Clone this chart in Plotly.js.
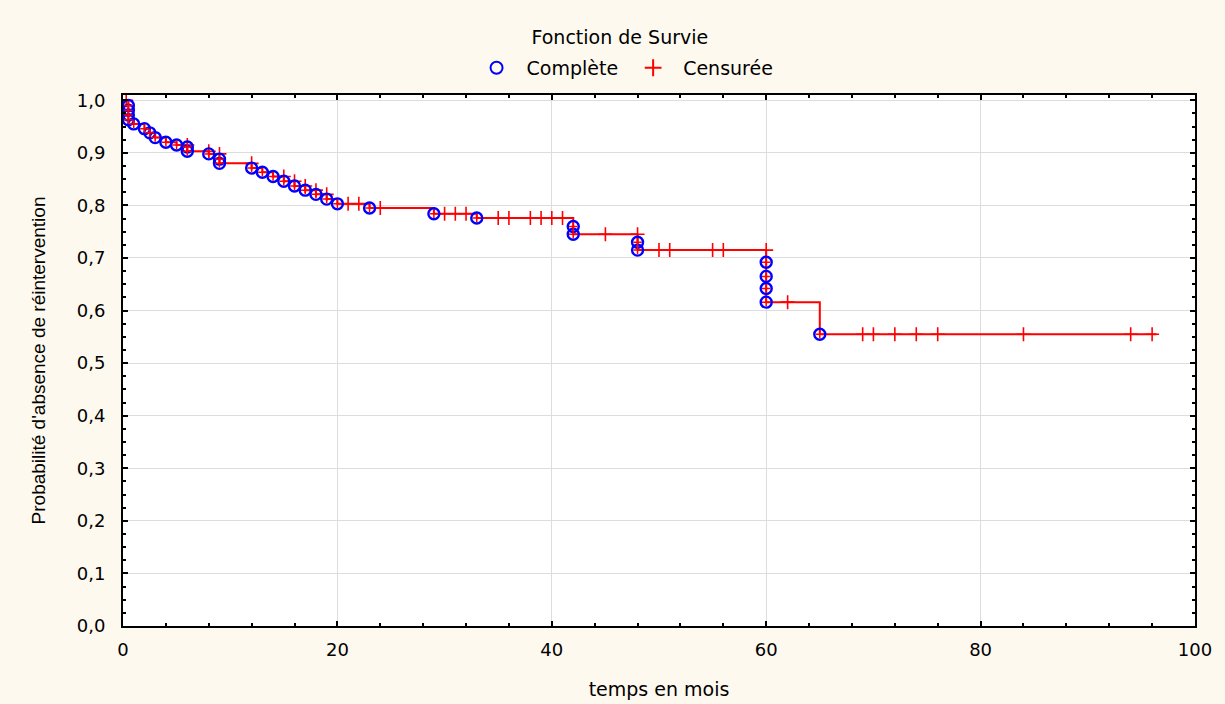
<!DOCTYPE html>
<html><head><meta charset="utf-8">
<script src="https://cdn.plot.ly/plotly-3.0.1.min.js"></script>
<style>html,body{margin:0;padding:0;background:#FEF9EE;} #chart{width:1225px;height:704px;}</style>
</head><body><div id="chart"></div>
<script>
// Événements (réinterventions) : temps en mois et survie après l'événement
const eventTimes = [0.5,0.5,0.5,0.5,1,2,2.5,3,4,5,6,6,8,9,9,12,13,14,15,16,17,18,19,20,23,29,33,42,42,48,48,60,60,60,60,65];
const eventSurv  = [0.990,0.981,0.972,0.963,0.955,0.946,0.938,0.929,0.920,0.915,0.911,0.903,0.898,0.888,0.880,0.871,0.863,0.855,0.846,0.837,0.829,0.821,0.812,0.803,0.795,0.784,0.776,0.760,0.745,0.730,0.715,0.692,0.665,0.642,0.616,0.555];
// Observations censurées
const censTimes = [0.3,6,8,9,12,15,16,17,18,19,21,22,24,30,31,32,35,36,38,39,40,41,45,48,50,51,55,56,60,62,69,70,72,74,76,84,94,96];
const censSurv  = [1.0,0.915,0.903,0.898,0.880,0.855,0.846,0.837,0.829,0.821,0.803,0.803,0.795,0.784,0.784,0.784,0.776,0.776,0.776,0.776,0.776,0.776,0.745,0.745,0.715,0.715,0.715,0.715,0.715,0.616,0.555,0.555,0.555,0.555,0.555,0.555,0.555,0.555];
const endTime = 96.4;
const xTickVals = [0,20,40,60,80,100];
const yTickVals = [0,0.1,0.2,0.3,0.4,0.5,0.6,0.7,0.8,0.9,1.0];

// Courbe en escalier construite à partir des événements
const stepX = [0], stepY = [1.0];
for (let i = 0; i < eventTimes.length; i++) {
  const n = stepX.length - 1;
  if (eventTimes[i] === stepX[n]) { stepY[n] = eventSurv[i]; }
  else { stepX.push(eventTimes[i]); stepY.push(eventSurv[i]); }
}
stepX.push(endTime); stepY.push(stepY[stepY.length - 1]);

const RED = '#FF0000', BLUE = '#0000FF';
const data = [
  {x: stepX, y: stepY, mode: 'lines', line: {shape: 'hv', color: RED, width: 2}, showlegend: false, hoverinfo: 'skip'},
  {x: censTimes, y: censSurv, mode: 'markers', name: 'Censurée', legendrank: 2,
   marker: {symbol: 'cross-thin-open', size: 10, color: RED, line: {color: RED, width: 1.6}}},
  {x: eventTimes, y: eventSurv, mode: 'markers', name: 'Complète', legendrank: 1,
   marker: {symbol: 'circle-open', size: 11, color: BLUE, line: {color: BLUE, width: 2.4}}},
  {x: eventTimes, y: eventSurv, mode: 'markers', showlegend: false, hoverinfo: 'skip',
   marker: {symbol: 'cross-thin-open', size: 6, color: RED, line: {color: RED, width: 1.5}}}
];

const FAM = 'DejaVu Sans, Arial, sans-serif';
const tickFont = {family: FAM, size: 18, color: '#000'};
const layout = {
  width: 1225, height: 704,
  paper_bgcolor: '#FEF9EE', plot_bgcolor: '#FFFFFF',
  separators: ', ',
  margin: {l: 123, r: 30, t: 95, b: 78},
  title: {text: 'Fonction de Survie', x: 0.506, xanchor: 'center', y: 0.947, yanchor: 'middle',
          font: {family: FAM, size: 19, color: '#000'}},
  legend: {orientation: 'h', x: 0.466, xanchor: 'center', y: 1.051, yanchor: 'middle',
           font: {family: FAM, size: 19, color: '#000'},
           bgcolor: 'rgba(0,0,0,0)', itemsizing: 'constant', itemwidth: 50, traceorder: 'normal'},
  xaxis: {range: [0, 100], tickvals: xTickVals, ticktext: xTickVals.map(String),
          showgrid: true, gridcolor: '#DDDDDD', gridwidth: 1, zeroline: false,
          showline: true, linecolor: '#000', linewidth: 2, mirror: 'ticks',
          ticks: 'inside', ticklen: 5, tickcolor: '#000', tickwidth: 2,
          minor: {dtick: 4, ticks: 'inside', ticklen: 3, tickcolor: '#000', showgrid: false},
          tickfont: tickFont, ticklabelstandoff: 6,
          title: {text: 'temps en mois', standoff: 24, font: {family: FAM, size: 19, color: '#000'}}},
  yaxis: {range: [0, 1.01], tickvals: yTickVals, tickformat: '.1f',
          showgrid: true, gridcolor: '#DDDDDD', gridwidth: 1, zeroline: false,
          showline: true, linecolor: '#000', linewidth: 2, mirror: 'ticks',
          ticks: 'inside', ticklen: 5, tickcolor: '#000', tickwidth: 2,
          minor: {dtick: 0.025, ticks: 'inside', ticklen: 3, tickcolor: '#000', showgrid: false},
          tickfont: tickFont, ticklabelstandoff: 12,
          title: {text: "Probabilité d'absence de réintervention", standoff: 26,
                  font: {family: 'Liberation Sans, Arial, sans-serif', size: 19, color: '#000'}}}
};
Plotly.newPlot('chart', data, layout, {displayModeBar: false, responsive: false});
</script></body></html>
